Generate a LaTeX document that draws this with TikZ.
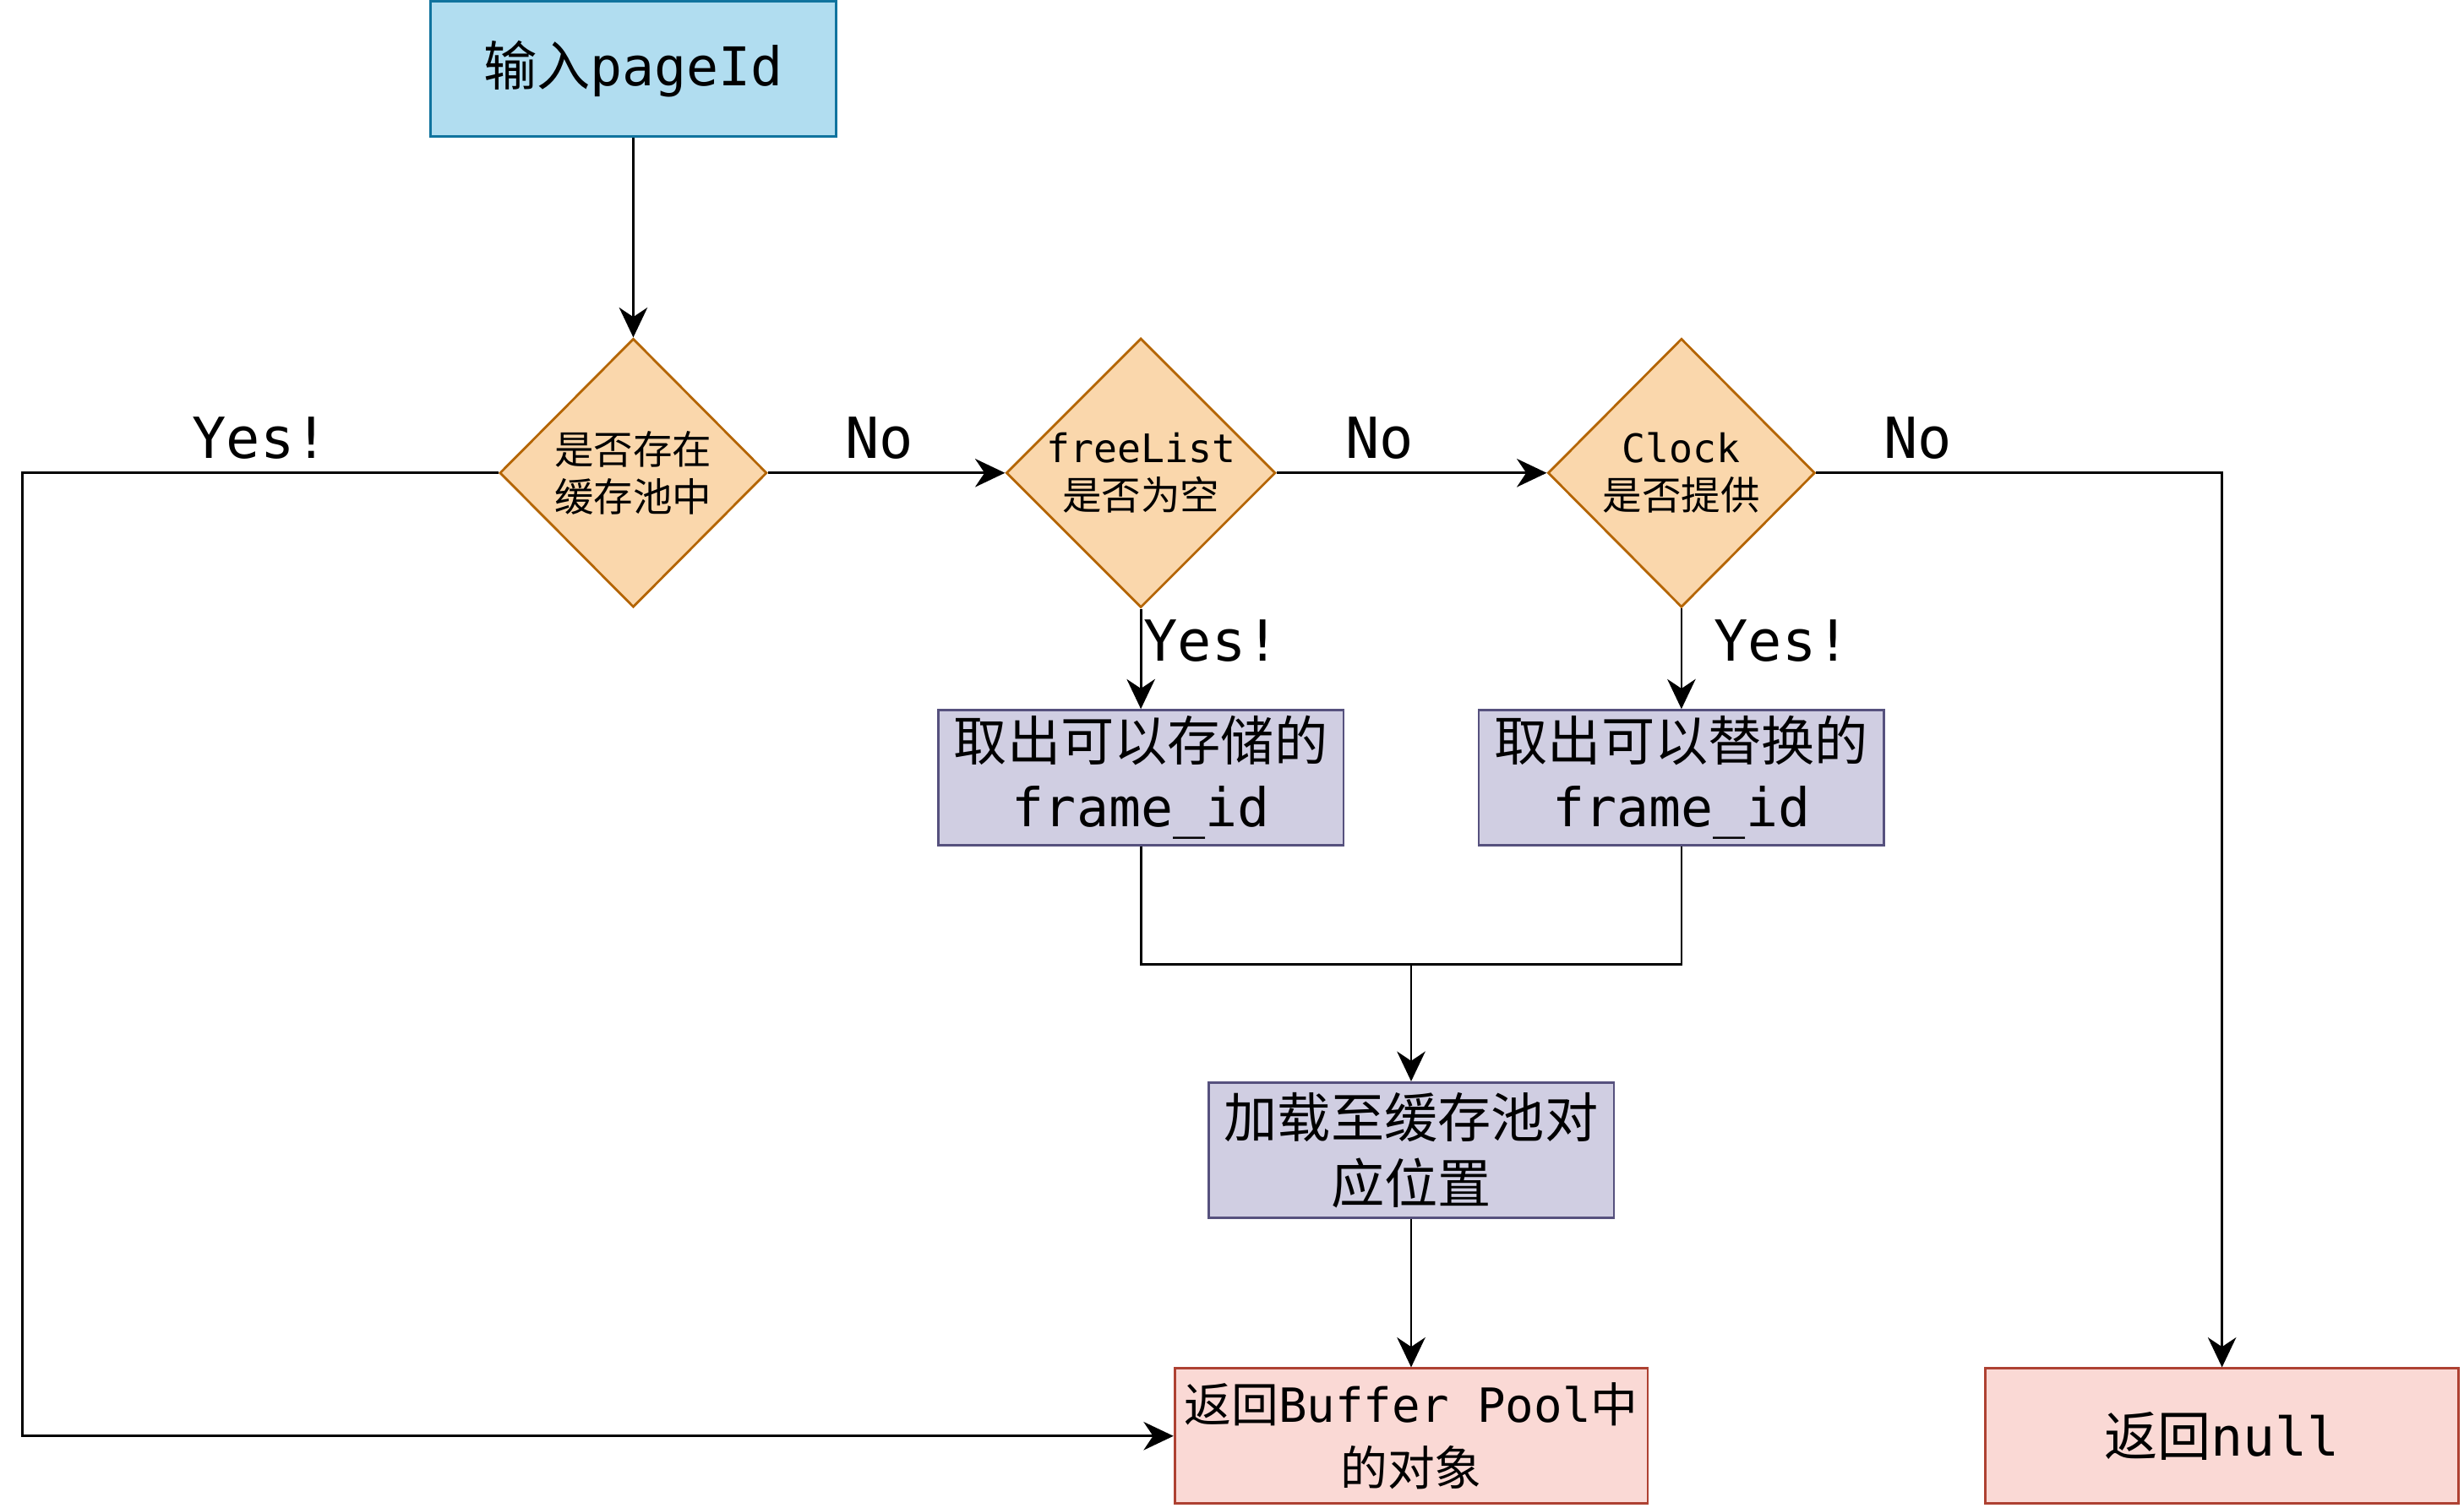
\documentclass[tikz,border=0pt]{standalone}
\usepackage{fontspec}
\setmainfont{DejaVu Sans Mono}
\newfontfamily\cjk{Noto Sans CJK SC}
\usetikzlibrary{arrows.meta,shapes.geometric,positioning}

\definecolor{inblue}{HTML}{B1DDF0}
\definecolor{inline}{HTML}{10739E}
\definecolor{decfill}{HTML}{FAD7AC}
\definecolor{decline}{HTML}{B46504}
\definecolor{opfill}{HTML}{D0CEE2}
\definecolor{opline}{HTML}{56517E}
\definecolor{endfill}{HTML}{FAD9D5}
\definecolor{endline}{HTML}{AE4132}

\begin{document}
\begin{tikzpicture}[x=1pt,y=-1pt,>={Stealth[length=19pt,width=18pt,inset=6pt]},
                    line width=1.5pt,node distance=257pt,
  box/.style={rectangle,draw,line width=1.5pt,minimum width=258pt,
              minimum height=86pt,inner sep=2pt,align=center,
              font=\fontsize{34}{42}\selectfont},
  inbox/.style={box,fill=inblue,draw=inline},
  decision/.style={diamond,draw=decline,fill=decfill,line width=1.5pt,
                   minimum width=170pt,minimum height=171pt,inner sep=0pt,
                   align=center,font=\fontsize{25}{30}\selectfont},
  work/.style={box,fill=opfill,draw=opline},
  endbox/.style={box,fill=endfill,draw=endline,minimum width=301pt},
  answer/.style={font=\fontsize{36}{36}\selectfont,inner sep=8pt}]
  \useasboundingbox (0,0) rectangle (1568,959.4);

  \node[inbox]     (in) at (403,44)                       {{\cjk 输入}pageId};
  \node[decision]  (hit)  [below of=in]                   {{\cjk 是否存在}\\{\cjk 缓存池中}};
  \node[decision]  (free) [node distance=323pt, right of=hit] {freeList\\{\cjk 是否为空}};
  \node[decision]  (clk)  [node distance=344pt, right of=free] {Clock\\{\cjk 是否提供}};
  \node[work]      (take) [node distance=194pt, below of=free] {{\cjk 取出可以存储的}\\frame\_id};
  \node[work]      (swap) [node distance=194pt, below of=clk]  {{\cjk 取出可以替换的}\\frame\_id};
  \node[work]      (load) at (898,732)                    {{\cjk 加载至缓存池对}\\{\cjk 应位置}};
  \node[endbox]    (ret)  [node distance=182pt, below of=load,
                           font=\fontsize{30}{40}\selectfont] {{\cjk 返回}Buffer Pool{\cjk 中}\\{\cjk 的对象}};
  \node[endbox]    (nul)  at (1414,914)                   {{\cjk 返回}null};
  \coordinate      (mrg)  at (898,614);

  \path[->] (in)   edge                                   (hit)
            (hit)  edge node[answer,above,pos=0.47] {No}  (free)
            (free) edge node[answer,above,pos=0.38] {No}  (clk)
            (free) edge node[answer,right,pos=0.32,inner sep=1pt] {Yes!} (take)
            (clk)  edge node[answer,right,pos=0.32,inner sep=1pt,xshift=19pt] {Yes!} (swap)
            (load) edge                                   (ret);

  \draw[->] (hit.west) -- node[answer,above] {Yes!} ++(-303,0) |- (ret);
  \draw[->] (clk) -| node[answer,above,pos=0.125] {No} (nul);
  \draw (take) |- (mrg) -| (swap);
  \draw[->] (mrg) -- (load);

\end{tikzpicture}
\end{document}
